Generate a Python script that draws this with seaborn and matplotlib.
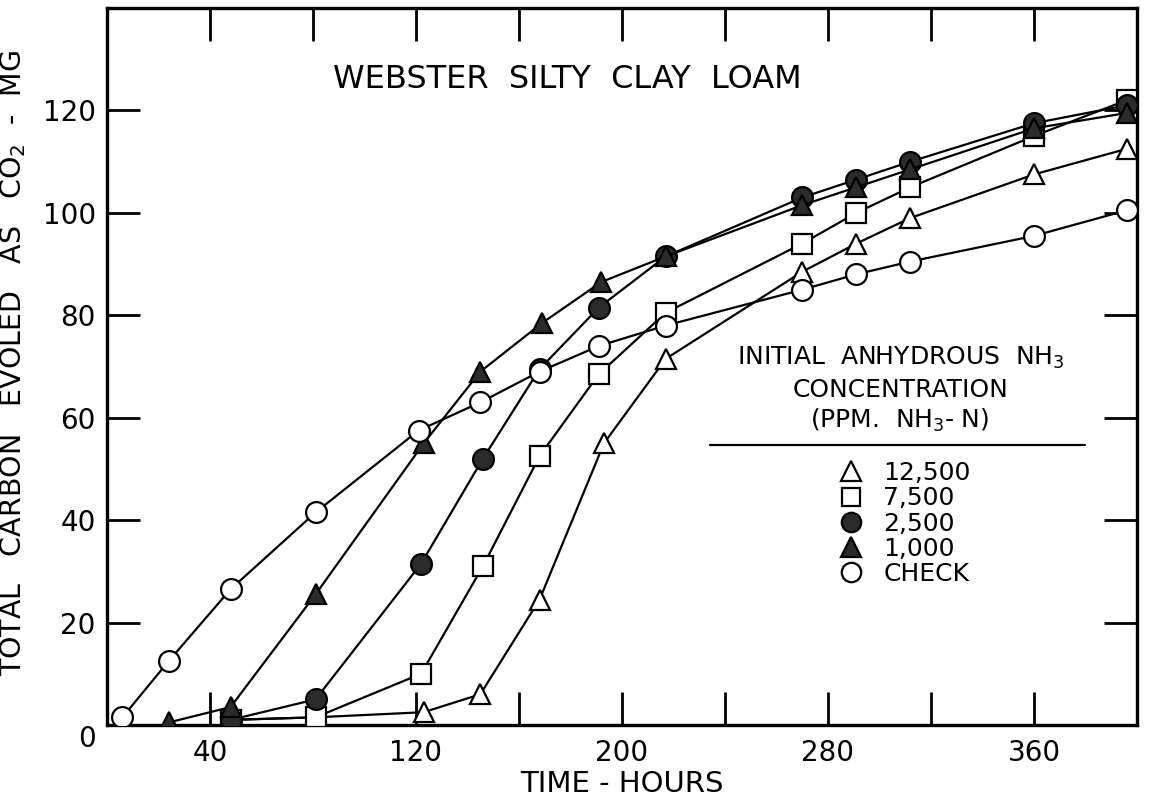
import matplotlib
matplotlib.use("Agg")
import matplotlib.pyplot as plt
from matplotlib.lines import Line2D
import pandas as pd
import seaborn as sns

# Cumulative CO2-carbon (mg) against incubation time (hours)
hours_12500 = [48, 81, 123, 145, 168, 193, 217, 270, 291, 312, 360, 396]
carbon_12500 = [1.0, 1.5, 2.5, 6.0, 24.5, 55.0, 71.5, 88.5, 94.0, 99.0, 107.5, 112.5]

hours_7500 = [48, 81, 122, 146, 168, 191, 217, 270, 291, 312, 360, 396]
carbon_7500 = [1.0, 1.5, 10.0, 31.0, 52.5, 68.5, 80.5, 94.0, 100.0, 105.0, 115.0, 122.0]

hours_2500 = [48, 81, 122, 146, 168, 191, 217, 270, 291, 312, 360, 396]
carbon_2500 = [1.0, 5.0, 31.5, 52.0, 69.5, 81.5, 91.5, 103.0, 106.5, 110.0, 117.5, 121.0]

hours_1000 = [24, 48, 81, 123, 145, 169, 192, 217, 270, 291, 312, 360, 396]
carbon_1000 = [0.5, 3.5, 25.5, 55.0, 69.0, 78.5, 86.5, 91.5, 101.5, 105.0, 108.5, 116.5, 119.5]

hours_check = [6, 24, 48, 81, 121, 145, 168, 191, 217, 270, 291, 312, 360, 396]
carbon_check = [1.5, 12.5, 26.5, 41.5, 57.5, 63.0, 69.0, 74.0, 78.0, 85.0, 88.0, 90.5, 95.5, 100.5]

series_labels = ["12,500", "7,500", "2,500", "1,000", "CHECK"]
x_tick_labels = [40, 120, 200, 280, 360]
x_minor_ticks = [80, 160, 240, 320]
y_ticks = [0, 20, 40, 60, 80, 100, 120]

series = [
    (series_labels[0], hours_12500, carbon_12500, "^", "white"),
    (series_labels[1], hours_7500, carbon_7500, "s", "white"),
    (series_labels[2], hours_2500, carbon_2500, "o", "#2b2b2b"),
    (series_labels[3], hours_1000, carbon_1000, "^", "#2b2b2b"),
    (series_labels[4], hours_check, carbon_check, "o", "white"),
]
marker_sizes = {"^": 15, "s": 14, "o": 15}

sns.set_theme(style="white")
plt.rcParams["font.family"] = ["DejaVu Sans"]
plt.rcParams["mathtext.default"] = "regular"
for key in ("text.color", "axes.labelcolor", "xtick.color", "ytick.color"):
    plt.rcParams[key] = "black"

fig = plt.figure(figsize=(11.5, 8.07), dpi=100)
ax = fig.add_axes([0.093, 0.1016, 0.8957, 0.8885])

for z, (label, hrs, vals, mk, face) in enumerate(series):
    df = pd.DataFrame({"hours": hrs, "carbon": vals})
    sns.lineplot(
        data=df, x="hours", y="carbon", ax=ax, color="black", linewidth=1.6,
        marker=mk, markersize=marker_sizes[mk], markerfacecolor=face,
        markeredgecolor="black", markeredgewidth=1.6, zorder=3 + z,
        label=None, legend=False,
    )

ax.set_xlim(0, 400)
ax.set_ylim(0, 140)

ax.set_xticks(x_tick_labels)
ax.set_xticklabels([str(v) for v in x_tick_labels])
ax.set_xticks(x_minor_ticks, minor=True)
ax.set_yticks(y_ticks)
ax.set_yticklabels([str(v) for v in y_ticks])
ax.get_yticklabels()[0].set_verticalalignment("top")

ax.tick_params(axis="both", which="both", direction="in", length=24, width=2.0,
               color="black", top=True, right=True, bottom=True, left=True,
               labeltop=False, labelright=False)
ax.tick_params(axis="x", which="major", labelsize=20, pad=10)
ax.tick_params(axis="y", which="major", labelsize=20, pad=8)

for sp in ax.spines.values():
    sp.set_visible(True)
    sp.set_color("black")
    sp.set_linewidth(2.4)

ax.set_xlabel("TIME - HOURS", fontsize=21, labelpad=2)
ax.set_ylabel("TOTAL   CARBON   EVOLED   AS   CO$_2$  -  MG", fontsize=20.5)
ax.yaxis.set_label_coords(-0.077, 0.505)

ax.text(0.447, 0.90, "WEBSTER  SILTY  CLAY  LOAM", transform=ax.transAxes,
        fontsize=23, ha="center", va="center")

# Legend heading and rule
ax.text(0.77, 0.512, "INITIAL  ANHYDROUS  NH$_3$", transform=ax.transAxes,
        fontsize=18, ha="center", va="center")
ax.text(0.77, 0.467, "CONCENTRATION", transform=ax.transAxes,
        fontsize=18, ha="center", va="center")
ax.text(0.77, 0.425, "(PPM.  NH$_3$- N)", transform=ax.transAxes,
        fontsize=18, ha="center", va="center")
ax.add_line(Line2D([0.585, 0.9495], [0.39, 0.39], transform=ax.transAxes,
                   color="black", linewidth=1.6))

handles = [
    Line2D([], [], linestyle="none", marker=mk, markersize=marker_sizes[mk] - 1,
           markerfacecolor=face, markeredgecolor="black", markeredgewidth=1.6)
    for (_, _, _, mk, face) in series
]
leg = ax.legend(handles, series_labels, loc="upper left", bbox_to_anchor=(0.71, 0.368),
                frameon=False, fontsize=18, handlelength=1.0, handletextpad=0.8,
                labelspacing=0.05, borderpad=0, borderaxespad=0)

fig.savefig("out.png", dpi=100)
